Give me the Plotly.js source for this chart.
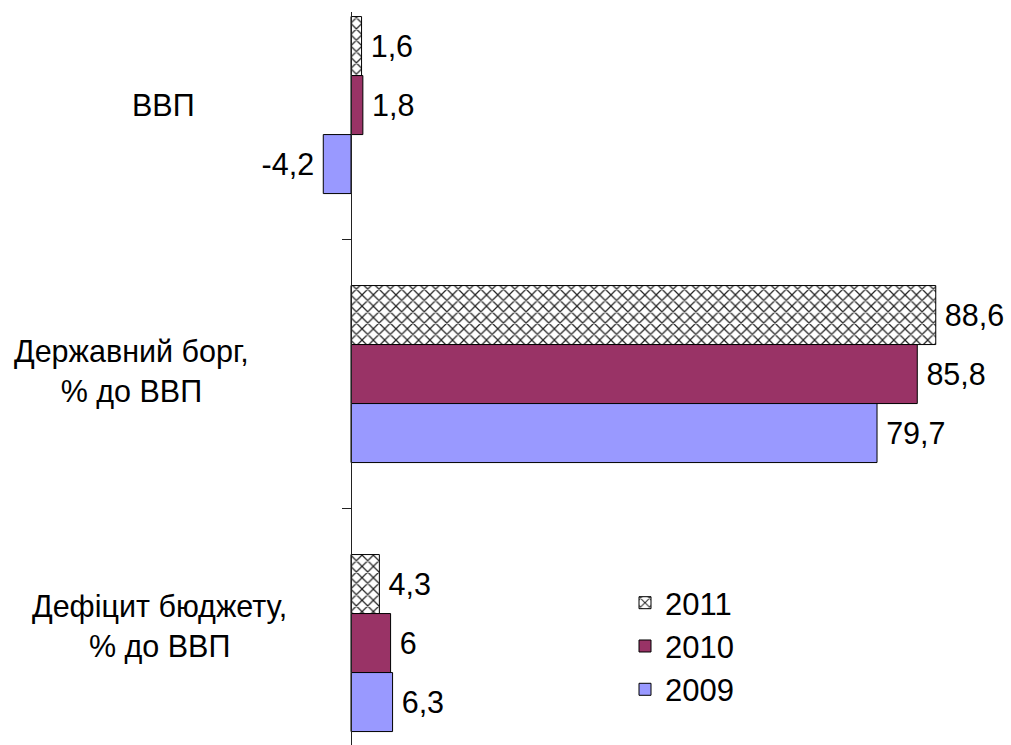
<!DOCTYPE html>
<html>
<head>
<meta charset="utf-8">
<script src="https://cdn.plot.ly/plotly-3.0.1.min.js"></script>
<style>
  html, body { margin: 0; padding: 0; background: #fff; }
  #chart { width: 1011px; height: 745px; }
</style>
</head>
<body>
<div id="chart"></div>
<script>
// Indicators (top to bottom) and their labels
const categories = ['ВВП', 'Державний борг', 'Дефіцит бюджету'];
const categoryLabels = ['ВВП', 'Державний борг,<br>% до ВВП', 'Дефіцит бюджету,<br>% до ВВП'];

// Values per year
const years = ['2011', '2010', '2009'];
const values2011 = [1.6, 88.6, 4.3];
const values2010 = [1.8, 85.8, 6.0];
const values2009 = [-4.2, 79.7, 6.3];

// Decimal comma labels, padded away from the bar end
function fmt(v) {
  const s = String(v).replace('.', ',');
  return v < 0 ? s + '\u2009' : '\u2009' + s;
}

const FONT = '"Liberation Sans", Arial, Helvetica, sans-serif';
const TEXT_SIZE = 30.5;

function barTrace(name, vals, marker) {
  return {
    type: 'bar',
    orientation: 'h',
    name: name,
    legendgroup: 'g' + name,
    y: categories,
    x: vals,
    text: vals.map(fmt),
    textposition: 'outside',
    cliponaxis: false,
    constraintext: 'none',
    textfont: { family: FONT, size: TEXT_SIZE, color: '#000' },
    marker: marker,
    hoverinfo: 'x+name'
  };
}

const data = [
  barTrace(years[0], values2011, {
    color: '#ffffff',
    line: { color: '#000', width: 1 },
    pattern: { shape: 'x', fgcolor: '#222', bgcolor: '#ffffff', size: 8, solidity: 0.28 }
  }),
  barTrace(years[1], values2010, {
    color: '#993366',
    line: { color: '#000', width: 1 }
  }),
  barTrace(years[2], values2009, {
    color: '#9999ff',
    line: { color: '#000', width: 1 }
  })
];

// Category labels to the left of the axis
const labelX = [163, 131, 159];
const labelY = [0, 0.99, 1.937];
const annotations = categoryLabels.map((t, i) => ({
  text: t,
  xref: 'paper', yref: 'y',
  x: labelX[i] / 1011, y: labelY[i],
  xanchor: 'center', yanchor: 'middle',
  align: 'center',
  showarrow: false,
  font: { family: FONT, size: TEXT_SIZE, color: '#000' }
}));

const layout = {
  width: 1011,
  height: 745,
  margin: { l: 0, r: 0, t: 12, b: 0 },
  paper_bgcolor: '#fff',
  plot_bgcolor: '#fff',
  font: { family: FONT, size: TEXT_SIZE, color: '#000' },
  barmode: 'group',
  bargap: 0.342,
  bargroupgap: 0,
  xaxis: {
    range: [-53.18, 100],
    showgrid: false,
    zeroline: false,
    showline: false,
    showticklabels: false,
    ticks: ''
  },
  yaxis: {
    type: 'category',
    range: [2.379, -0.346],
    anchor: 'free',
    position: 351 / 1011,
    showline: true,
    linecolor: '#222',
    linewidth: 1,
    ticks: 'outside',
    tickson: 'boundaries',
    ticklen: 9,
    tickcolor: '#222',
    tickwidth: 1,
    showgrid: false,
    showticklabels: false,
    zeroline: false
  },
  showlegend: true,
  legend: {
    x: 625 / 1011,
    y: 0.2305,
    xanchor: 'left',
    yanchor: 'top',
    traceorder: 'grouped',
    tracegroupgap: 0,
    bgcolor: 'rgba(0,0,0,0)',
    font: { family: FONT, size: 31, color: '#000' }
  },
  annotations: annotations
};

Plotly.newPlot('chart', data, layout, { displayModeBar: false, responsive: false });
</script>
</body>
</html>
